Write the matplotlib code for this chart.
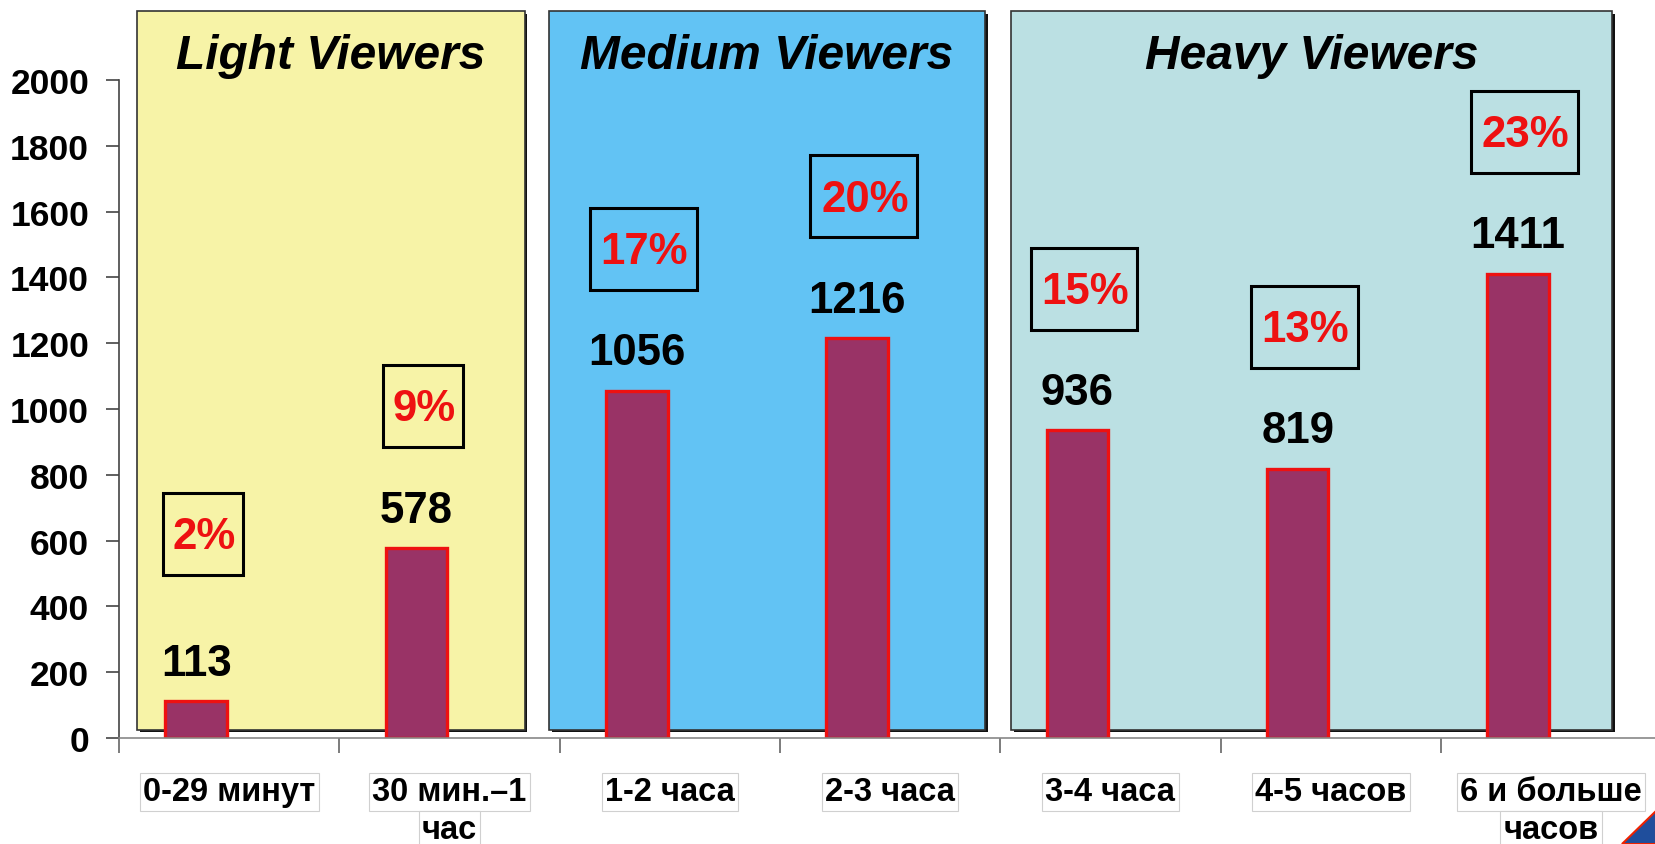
import matplotlib
matplotlib.use("Agg")
import matplotlib.pyplot as plt
import matplotlib.patches as mpatches
from matplotlib.transforms import blended_transform_factory

plt.rcParams['font.family'] = ['Liberation Sans', 'DejaVu Sans']

# Data
categories = ["0-29 минут", "30 мин.–1\nчас", "1-2 часа", "2-3 часа",
              "3-4 часа", "4-5 часов", "6 и больше\nчасов"]
viewers = [113, 578, 1056, 1216, 936, 819, 1411]
shares = ["2%", "9%", "17%", "20%", "15%", "13%", "23%"]
group_names = ["Light Viewers", "Medium Viewers", "Heavy Viewers"]
group_colors = ["#F7F3A7", "#62C3F4", "#BBE0E3"]

# panel edges in category units (layout)
PANEL_SPANS = [(-0.418, 1.341), (1.451, 3.431), (3.551, 6.279)]
PANEL_BOTTOM = 25
PANEL_TOP = 2209
BAR_SHIFT = -0.15
BAR_WIDTH = 0.28
PX_PER_CAT = 220.3   # pixels per category (full size)
PX_PER_UNIT = 0.329  # pixels per y unit

fig = plt.figure(figsize=(16.56, 8.45), dpi=100)
ax = fig.add_axes([0.0719, 0.1254, 0.9312, 0.8746])
ax.set_xlim(-0.5, 6.5)
ax.set_ylim(0, 2246)

# background panels with a small drop shadow
for (x0, x1), name, col in zip(PANEL_SPANS, group_names, group_colors):
    shadow = mpatches.Rectangle((x0 + 0.012, PANEL_BOTTOM - 8), x1 - x0, PANEL_TOP - PANEL_BOTTOM,
                                facecolor="#111111", edgecolor="none", zorder=0.5, clip_on=False)
    ax.add_patch(shadow)
    panel = mpatches.Rectangle((x0, PANEL_BOTTOM), x1 - x0, PANEL_TOP - PANEL_BOTTOM,
                               facecolor=col, edgecolor="#333333", linewidth=1.2,
                               zorder=0.6, clip_on=False)
    ax.add_patch(panel)
    ax.text((x0 + x1) / 2, 2074, name, ha="center", va="center", fontsize=34.5,
            fontweight="bold", fontstyle="italic", color="black", zorder=3)

xpos = [i + BAR_SHIFT for i in range(len(categories))]
ax.bar(xpos, viewers, width=BAR_WIDTH, color="#993366", edgecolor="#EE1111",
       linewidth=2.4, zorder=2)

for x, v, s in zip(xpos, viewers, shares):
    ax.text(x, v + 115, str(v), ha="center", va="center", fontsize=31.5,
            fontweight="bold", color="black", zorder=3)
    yc = max(v + 430, 620)
    w = (26.5 * len(s) + 27) / PX_PER_CAT
    h = 82 / PX_PER_UNIT
    ax.add_patch(mpatches.Rectangle((x + 0.03 - w / 2, yc - h / 2), w, h,
                                    facecolor="none", edgecolor="black",
                                    linewidth=2.2, zorder=3))
    ax.text(x + 0.035, yc - 8, s, ha="center", va="center", fontsize=31.5,
            fontweight="bold", color="#EE1111", zorder=3)

# axes styling
for side in ["top", "right"]:
    ax.spines[side].set_visible(False)
ax.spines["left"].set_bounds(0, 2000)
ax.spines["left"].set_color("#444444")
ax.spines["bottom"].set_color("#888888")
ax.spines["left"].set_linewidth(1.2)
ax.spines["bottom"].set_linewidth(1.2)
ax.spines["left"].set_zorder(1)

ax.set_yticks(range(0, 2001, 200))
ax.tick_params(axis="y", length=9.5, width=1.2, color="#444444", pad=12,
               labelsize=25.5)
for lab in ax.get_yticklabels():
    lab.set_fontweight("bold")

ax.set_xticks([i - 0.5 for i in range(len(categories) + 1)])
ax.set_xticklabels([])
ax.tick_params(axis="x", length=11, width=1.2, color="#666666", direction="out")

# category labels, each line in its own light box
trans = blended_transform_factory(ax.transData, fig.transFigure)
for i, cat in enumerate(categories):
    for j, line in enumerate(cat.split("\n")):
        ax.text(i, 52 / 845 - j * 38 / 845, line, transform=trans, ha="center",
                va="center", fontsize=23.5, fontweight="bold", color="black",
                bbox=dict(boxstyle="square,pad=0.1", facecolor="white",
                          edgecolor="#D0D0D0", linewidth=0.8),
                clip_on=False)

# corner logo fragment
fig.patches.append(mpatches.Polygon([(1622 / 1656, 0), (1, 33 / 845), (1, 0)],
                                    closed=True, transform=fig.transFigure,
                                    facecolor="#1F4E9C", edgecolor="#EE2200",
                                    linewidth=1.5, figure=fig))

fig.savefig("out.png", dpi=100)
